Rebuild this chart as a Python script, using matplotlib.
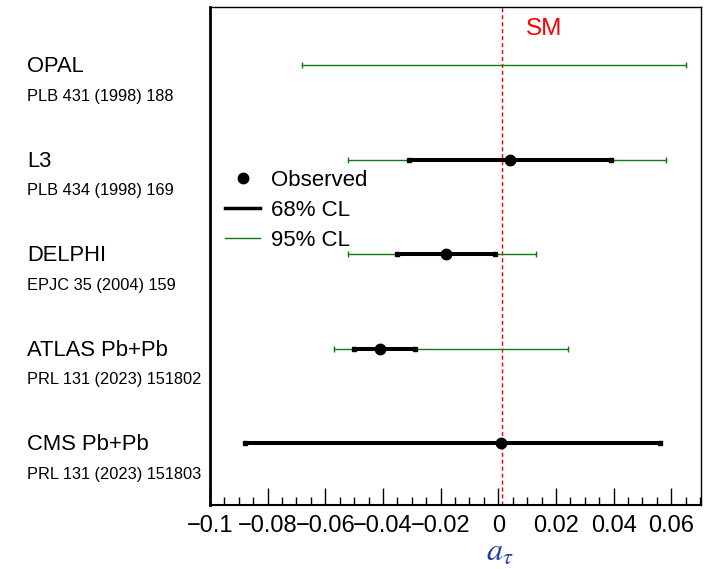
import matplotlib
matplotlib.use("Agg")
import matplotlib.pyplot as plt
import matplotlib.transforms as mtransforms
from matplotlib.lines import Line2D
from matplotlib.ticker import FixedLocator, MultipleLocator, FuncFormatter

plt.rcParams['font.family'] = ['Liberation Sans', 'DejaVu Sans']
plt.rcParams['mathtext.fontset'] = 'stix'

# measurements, top to bottom
experiments = ["OPAL", "L3", "DELPHI", "ATLAS Pb+Pb", "CMS Pb+Pb"]
references = ["PLB 431 (1998) 188", "PLB 434 (1998) 169", "EPJC 35 (2004) 159",
              "PRL 131 (2023) 151802", "PRL 131 (2023) 151803"]
central = [None, 0.004, -0.018, -0.041, 0.001]
cl68_lo = [None, -0.031, -0.035, -0.050, -0.088]
cl68_hi = [None, 0.039, -0.001, -0.029, 0.056]
cl95_lo = [-0.068, -0.052, -0.052, -0.057, None]
cl95_hi = [0.065, 0.058, 0.013, 0.024, None]
sm_value = 0.00118
tick_values = [-0.1, -0.08, -0.06, -0.04, -0.02, 0, 0.02, 0.04, 0.06]

green = '#137a13'

fig = plt.figure(figsize=(7.17, 5.69), dpi=100)
ax = fig.add_axes([210/717, 64/569, 491/717, 498/569])

n = len(experiments)
ypos = [n - i for i in range(n)]

for i in range(n):
    y = ypos[i]
    if cl95_lo[i] is not None:
        ax.plot([cl95_lo[i], cl95_hi[i]], [y, y], color=green, lw=1.0, zorder=2)
        ax.plot([cl95_lo[i], cl95_hi[i]], [y, y], ls='none', marker='|', ms=5, mew=1.0, color=green, zorder=2)
    if cl68_lo[i] is not None:
        ax.plot([cl68_lo[i], cl68_hi[i]], [y, y], color='black', lw=2.9, zorder=3, solid_capstyle='butt')
        ax.plot([cl68_lo[i], cl68_hi[i]], [y, y], ls='none', marker='s', ms=3.2, color='black', zorder=3)
    if central[i] is not None:
        ax.plot(central[i], y, 'o', color='black', ms=7.5, zorder=4)

ax.axvline(sm_value, color='red', ls=(0, (3, 2)), lw=1.0, zorder=1)
ax.text(0.0097, 5.38, "SM", color='red', fontsize=17.5, va='center', ha='left')

ax.set_xlim(-0.1, 0.0703)
ax.set_ylim(0.344, 5.614)

ax.xaxis.set_major_locator(FixedLocator(tick_values))
ax.xaxis.set_minor_locator(MultipleLocator(0.005))
ax.xaxis.set_major_formatter(FuncFormatter(lambda v, p: "0" if abs(v) < 1e-9 else ("%g" % v).replace("-", "\u2212")))
ax.tick_params(axis='x', which='major', direction='in', length=12, width=1, labelsize=17, pad=7)
ax.tick_params(axis='x', which='minor', direction='in', length=6, width=1)
ax.tick_params(axis='x', top=False)
ax.set_yticks([])
for s in ['top', 'right']:
    ax.spines[s].set_linewidth(1.0)
ax.spines['left'].set_linewidth(2.0)
ax.spines['bottom'].set_linewidth(1.5)

# labels left of the frame
trans = mtransforms.blended_transform_factory(fig.transFigure, ax.transData)
for i in range(n):
    y = ypos[i]
    ax.text(27/717, y - 0.02, experiments[i], transform=trans, fontsize=15.8, va='center', ha='left')
    ax.text(27/717, y - 0.33, references[i], transform=trans, fontsize=11.8, va='center', ha='left')

handles = [Line2D([], [], ls='none', marker='o', color='black', ms=7.5),
           Line2D([], [], color='black', lw=2.5),
           Line2D([], [], color=green, lw=1.0)]
ax.legend(handles, ["Observed", "68% CL", "95% CL"], loc='upper left',
          bbox_to_anchor=(0.012, 0.69), frameon=False, fontsize=16,
          handlelength=1.6, handletextpad=0.5, labelspacing=0.4, borderaxespad=0)

fig.text(500/717, 1/569, r"$a_\tau$", color='#1f3fa8', fontsize=23, ha='center', va='bottom')

fig.savefig("out.png", dpi=100)
